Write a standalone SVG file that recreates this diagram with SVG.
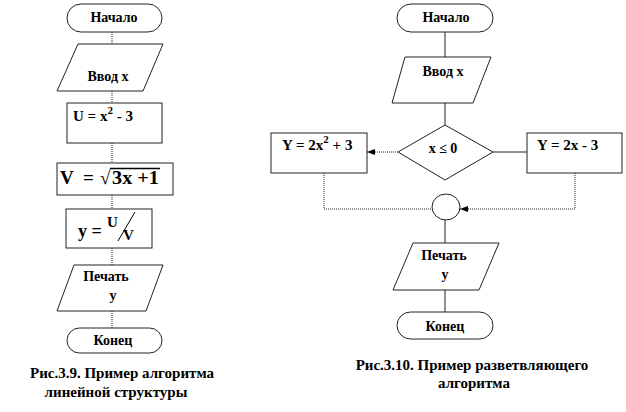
<svg xmlns="http://www.w3.org/2000/svg" width="626" height="412" viewBox="0 0 626 412">
<style>
text{font-family:"Liberation Serif","Times New Roman",serif;font-weight:bold;fill:#000;}
.t{font-size:14px;text-anchor:middle;}
.f{font-size:15px;}
.cap{font-size:15px;text-anchor:middle;}
.s{fill:#fff;stroke:#222;stroke-width:1;}
.c{fill:none;stroke:#222;stroke-width:1;}
.d{fill:none;stroke:#222;stroke-width:1;stroke-dasharray:1 1;}
</style>
<defs>
<marker id="ah" markerWidth="8" markerHeight="6" refX="8" refY="3" orient="auto" markerUnits="userSpaceOnUse">
<path d="M0,0 L8,3 L0,6 Z" fill="#000"/>
</marker>
</defs>
<rect width="626" height="412" fill="#fff"/>
<g id="connectors">
<line class="d" x1="112" y1="32" x2="112" y2="44"/>
<line class="d" x1="112" y1="91" x2="112" y2="103"/>
<line class="d" x1="112" y1="143" x2="112" y2="163"/>
<line class="d" x1="112" y1="195" x2="112" y2="209"/>
<line class="d" x1="112" y1="248" x2="112" y2="265"/>
<line class="d" x1="112" y1="311" x2="112" y2="328"/>
<line class="c" x1="445" y1="32" x2="445" y2="57"/>
<line class="c" x1="445" y1="103" x2="445" y2="125"/>
<line class="d" x1="398" y1="152" x2="367" y2="152" marker-end="url(#ah)"/>
<line class="c" x1="493" y1="152" x2="527" y2="152"/>
<polyline class="d" points="324,173 324,209 432,209"/>
<polyline class="d" points="575,173 575,209 460,209" marker-end="url(#ah)"/>
<line class="c" x1="445" y1="220" x2="445" y2="243"/>
<line class="c" x1="445" y1="290" x2="445" y2="312"/>
</g>
<g id="l-start">
<rect class="s" x="67" y="4" width="95" height="28" rx="14"/>
<text class="t" x="114" y="22">Начало</text>
</g>
<g id="l-input">
<polygon class="s" points="78,44 163,44 143,91 57,91"/>
<text class="t" x="108" y="81">Ввод x</text>
</g>
<g id="l-u">
<rect class="s" x="67" y="103" width="95" height="40"/>
<text class="f" x="73" y="121">U = x<tspan font-size="11" dy="-7">2</tspan><tspan dy="7"> - 3</tspan></text>
</g>
<g id="l-v">
<rect class="s" x="57" y="163" width="116" height="32"/>
<text x="60" y="184" font-size="19">V</text>
<text x="83" y="184" font-size="19">=</text>
<text x="100" y="184" font-size="19">√</text>
<text x="112" y="184" font-size="19" textLength="47" lengthAdjust="spacingAndGlyphs">3x +1</text>
<line x1="110" y1="168.5" x2="160" y2="168.5" stroke="#000" stroke-width="1.3"/>
</g>
<g id="l-y">
<rect class="s" x="66" y="209" width="86" height="39"/>
<text x="78" y="237" font-size="18">y =</text>
<text class="f" x="107" y="227">U</text>
<line x1="135" y1="212" x2="118" y2="241" stroke="#000" stroke-width="1"/>
<text class="f" x="123" y="240">V</text>
</g>
<g id="l-print">
<polygon class="s" points="74,265 163,265 146,311 57,311"/>
<text class="t" x="106" y="281">Печать</text>
<text class="t" x="113" y="300">у</text>
</g>
<g id="l-end">
<rect class="s" x="67" y="328" width="95" height="25" rx="12.5"/>
<text class="t" x="113" y="345">Конец</text>
</g>
<g id="l-caption">
<text class="cap" x="122" y="378">Рис.3.9. Пример алгоритма</text>
<text class="cap" x="116" y="397">линейной структуры</text>
</g>
<g id="r-start">
<rect class="s" x="397" y="4" width="96" height="28" rx="14"/>
<text class="t" x="446" y="22">Начало</text>
</g>
<g id="r-input">
<polygon class="s" points="405,57 491,57 473,103 392,103"/>
<text class="t" x="443" y="76">Ввод x</text>
</g>
<g id="r-cond">
<polygon class="s" points="445,125 493,152 445,180 398,152"/>
<text class="t" x="443" y="153">x ≤ 0</text>
</g>
<g id="r-left">
<rect class="s" x="271" y="133" width="96" height="40"/>
<text class="f" x="282" y="150">Y = 2x<tspan font-size="11" dy="-7">2</tspan><tspan dy="7"> + 3</tspan></text>
</g>
<g id="r-right">
<rect class="s" x="527" y="133" width="95" height="40"/>
<text class="f" x="537" y="150">Y = 2x - 3</text>
</g>
<g id="r-join">
<ellipse class="s" cx="446" cy="207" rx="14" ry="13"/>
</g>
<g id="r-print">
<polygon class="s" points="413,243 499,243 479,290 393,290"/>
<text class="t" x="444" y="260">Печать</text>
<text class="t" x="445" y="279">у</text>
</g>
<g id="r-end">
<rect class="s" x="397" y="312" width="96" height="27" rx="13.5"/>
<text class="t" x="445" y="331">Конец</text>
</g>
<g id="r-caption">
<text class="cap" x="472" y="370">Рис.3.10. Пример разветвляющего</text>
<text class="cap" x="474" y="388">алгоритма</text>
</g>
</svg>
